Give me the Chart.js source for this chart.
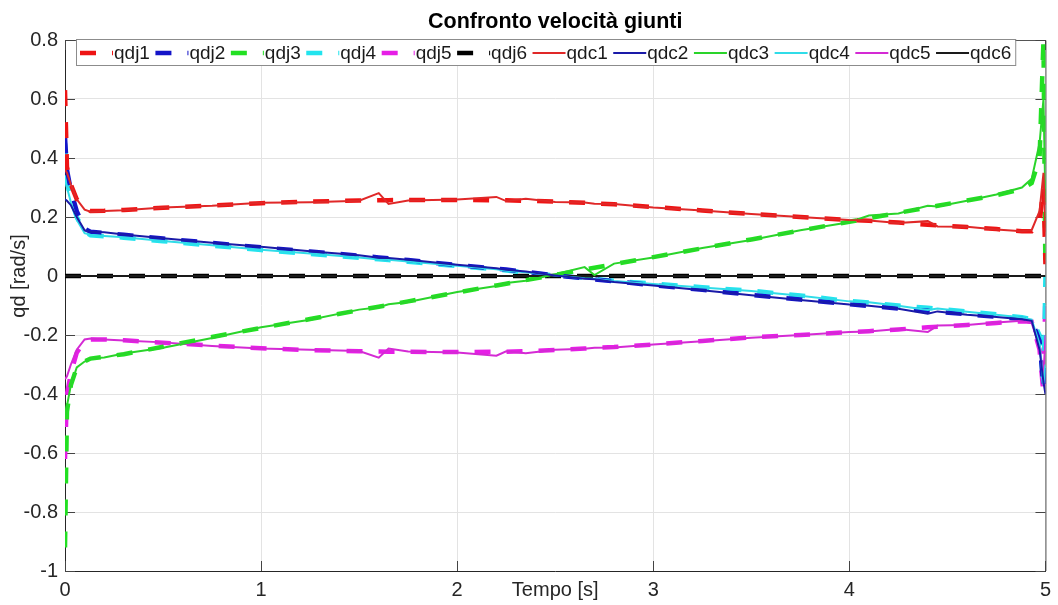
<!DOCTYPE html>
<html>
<head>
<meta charset="utf-8">
<script src="https://cdn.jsdelivr.net/npm/chart.js@4.4.0/dist/chart.umd.min.js"></script>
<style>
  html, body { margin: 0; padding: 0; background: #fff; }
  #wrap { width: 1058px; height: 605px; }
</style>
</head>
<body>
<div id="wrap"><canvas id="chart" width="1058" height="605"></canvas></div>
<script>
// time samples [s]
var time = [0, 0.01, 0.03, 0.06, 0.1, 0.13, 0.2, 0.3, 0.5, 0.75, 1.0, 1.25, 1.5, 1.6, 1.65, 1.75, 2.0, 2.2, 2.25, 2.35,
            2.5, 2.65, 2.7, 2.8, 3.0, 3.25, 3.5, 3.75, 4.0, 4.1, 4.25, 4.4, 4.45, 4.6, 4.75, 4.88, 4.93, 4.97, 4.99, 5.0];

// desired joint velocities (dashed)
var qdj1 = [0.63, 0.37, 0.31, 0.26, 0.23, 0.22, 0.221, 0.224, 0.231, 0.239, 0.247, 0.252, 0.256, 0.257, 0.257, 0.258, 0.258, 0.257, 0.257, 0.255,
            0.252, 0.248, 0.246, 0.243, 0.234, 0.222, 0.21, 0.2, 0.19, 0.187, 0.181, 0.174, 0.172, 0.166, 0.159, 0.152, 0.152, 0.18, 0.3, 0.04];
var qdj2 = [0.47, 0.36, 0.29, 0.22, 0.16, 0.15, 0.146, 0.14, 0.127, 0.112, 0.097, 0.083, 0.069, 0.063, 0.06, 0.054, 0.037, 0.025, 0.022, 0.014,
            0.002, -0.008, -0.012, -0.018, -0.031, -0.047, -0.064, -0.08, -0.096, -0.102, -0.11, -0.118, -0.121, -0.13, -0.138, -0.146, -0.15, -0.22, -0.38, -0.3];
var qdj3 = [-0.92, -0.46, -0.37, -0.31, -0.29, -0.28, -0.274, -0.265, -0.24, -0.207, -0.176, -0.146, -0.116, -0.104, -0.098, -0.086, -0.056, -0.032, -0.026, -0.014,
            0.004, 0.022, 0.028, 0.04, 0.064, 0.094, 0.124, 0.154, 0.184, 0.196, 0.214, 0.232, 0.238, 0.256, 0.274, 0.295, 0.315, 0.4, 0.8, 0.0];
var qdj4 = [0.45, 0.32, 0.26, 0.2, 0.15, 0.138, 0.135, 0.13, 0.118, 0.103, 0.088, 0.075, 0.062, 0.057, 0.054, 0.048, 0.034, 0.022, 0.019, 0.012,
            0.002, -0.007, -0.01, -0.016, -0.026, -0.038, -0.05, -0.066, -0.085, -0.09, -0.1, -0.108, -0.111, -0.12, -0.13, -0.14, -0.146, -0.2, -0.38, 0.0];
var qdj5 = [-0.62, -0.4, -0.33, -0.26, -0.22, -0.215, -0.215, -0.218, -0.226, -0.236, -0.245, -0.251, -0.255, -0.256, -0.257, -0.257, -0.258, -0.257, -0.257, -0.255,
            -0.251, -0.246, -0.244, -0.241, -0.232, -0.22, -0.208, -0.2, -0.19, -0.187, -0.181, -0.174, -0.172, -0.166, -0.159, -0.153, -0.155, -0.25, -0.4, -0.05];
var qdj6 = [0, 0, 0, 0, 0, 0, 0, 0, 0, 0, 0, 0, 0, 0, 0, 0, 0, 0, 0, 0,
            0, 0, 0, 0, 0, 0, 0, 0, 0, 0, 0, 0, 0, 0, 0, 0, 0, 0, 0, 0];

// computed joint velocities (solid)
var qdc1 = [0.36, 0.35, 0.31, 0.26, 0.225, 0.218, 0.22, 0.223, 0.232, 0.238, 0.248, 0.25, 0.255, 0.281, 0.244, 0.256, 0.259, 0.268, 0.254, 0.262,
            0.251, 0.249, 0.245, 0.244, 0.232, 0.222, 0.21, 0.2, 0.19, 0.188, 0.18, 0.186, 0.168, 0.167, 0.158, 0.152, 0.156, 0.22, 0.35, 0.15];
var qdc2 = [0.26, 0.255, 0.24, 0.2, 0.155, 0.15, 0.148, 0.141, 0.128, 0.113, 0.099, 0.084, 0.07, 0.062, 0.061, 0.055, 0.038, 0.026, 0.021, 0.015,
            0.002, -0.009, -0.011, -0.02, -0.032, -0.048, -0.065, -0.081, -0.097, -0.101, -0.111, -0.128, -0.12, -0.131, -0.139, -0.147, -0.152, -0.25, -0.36, -0.4];
var qdc3 = [-0.48, -0.44, -0.37, -0.31, -0.29, -0.28, -0.276, -0.263, -0.243, -0.21, -0.174, -0.148, -0.114, -0.106, -0.096, -0.088, -0.054, -0.034, -0.024, -0.016,
            0.006, 0.03, 0.003, 0.042, 0.063, 0.095, 0.122, 0.155, 0.182, 0.205, 0.212, 0.238, 0.236, 0.255, 0.276, 0.3, 0.33, 0.45, 0.6, 0.25];
var qdc4 = [0.33, 0.3, 0.25, 0.19, 0.145, 0.14, 0.136, 0.131, 0.119, 0.104, 0.089, 0.076, 0.063, 0.056, 0.055, 0.049, 0.035, 0.023, 0.018, 0.013,
            0.002, -0.008, -0.009, -0.017, -0.027, -0.039, -0.051, -0.067, -0.086, -0.089, -0.101, -0.115, -0.11, -0.121, -0.131, -0.141, -0.148, -0.23, -0.37, -0.3];
var qdc5 = [-0.35, -0.34, -0.3, -0.25, -0.215, -0.212, -0.215, -0.219, -0.225, -0.237, -0.246, -0.25, -0.254, -0.277, -0.246, -0.256, -0.259, -0.27, -0.255, -0.262,
            -0.25, -0.247, -0.243, -0.242, -0.232, -0.221, -0.209, -0.2, -0.19, -0.188, -0.18, -0.19, -0.168, -0.166, -0.158, -0.152, -0.16, -0.24, -0.34, -0.2];
var qdc6 = [0, 0, 0, 0, 0, 0, 0, 0, 0, 0, 0, 0, 0, 0, 0, 0, 0, 0, 0, 0,
            0, 0, 0, 0, 0, 0, 0, 0, 0, 0, 0, 0, 0, 0, 0, 0, 0, 0, 0, 0];

var xTickValues = [0, 1, 2, 3, 4, 5];
var xTickLabels = ['0', '1', '2', '3', '4', '5'];
var yTickValues = [-1, -0.8, -0.6, -0.4, -0.2, 0, 0.2, 0.4, 0.6, 0.8];
var yTickLabels = ['-1', '-0.8', '-0.6', '-0.4', '-0.2', '0', '0.2', '0.4', '0.6', '0.8'];

var FONT = '"Liberation Sans", Arial, sans-serif';

function pts(arr) {
    return time.map(function (t, i) { return { x: t, y: arr[i] }; });
}

function dashed(label, data, color) {
    return { label: label, data: pts(data), borderColor: color, borderWidth: 4.5, borderDash: [16, 16], order: 1 };
}
function solid(label, data, color) {
    return { label: label, data: pts(data), borderColor: color, borderWidth: 2, order: 0 };
}

var datasets = [
    dashed('qdj1', qdj1, '#ee1414'),
    dashed('qdj2', qdj2, '#1414c8'),
    dashed('qdj3', qdj3, '#22e022'),
    dashed('qdj4', qdj4, '#22e4ee'),
    dashed('qdj5', qdj5, '#e61ee6'),
    dashed('qdj6', qdj6, '#000000'),
    solid('qdc1', qdc1, '#e02828'),
    solid('qdc2', qdc2, '#1a1aa8'),
    solid('qdc3', qdc3, '#2ad42a'),
    solid('qdc4', qdc4, '#30dce8'),
    solid('qdc5', qdc5, '#d42ad4'),
    solid('qdc6', qdc6, '#1a1a1a')
];

// legend box drawn inside the axes, MATLAB style
var legendBox = {
    id: 'legendBox',
    afterDraw: function (chart) {
        var ctx = chart.ctx;
        ctx.save();
        ctx.font = '19px ' + FONT;
        var x0 = 80, y = 53, x = x0;
        var items = [];
        chart.data.datasets.forEach(function (ds) {
            var w = ctx.measureText(ds.label).width;
            items.push({ ds: ds, x: x });
            x += 34 + w + 5.5;
        });
        var right = x - 5.5 + 4;
        ctx.fillStyle = '#fff';
        ctx.fillRect(76, 39.5, right - 76, 26);
        ctx.strokeStyle = '#8c8c8c';
        ctx.lineWidth = 1;
        ctx.strokeRect(76.5, 39.5, right - 76, 26);
        ctx.textBaseline = 'middle';
        items.forEach(function (it) {
            var ds = it.ds;
            ctx.strokeStyle = ds.borderColor;
            ctx.lineWidth = ds.borderWidth;
            ctx.setLineDash(ds.borderDash || []);
            ctx.beginPath();
            ctx.moveTo(it.x, y);
            ctx.lineTo(it.x + 33, y);
            ctx.stroke();
            ctx.setLineDash([]);
            ctx.fillStyle = '#1a1a1a';
            ctx.fillText(ds.label, it.x + 34, y + 1);
        });
        ctx.restore();
    }
};

// box, inward ticks, title and axis titles
var axesDecor = {
    id: 'axesDecor',
    beforeDatasetsDraw: function (chart) {
        var ctx = chart.ctx, a = chart.chartArea;
        var xs = chart.scales.x, ys = chart.scales.y;
        ctx.save();
        ctx.strokeStyle = '#555';
        ctx.lineWidth = 1;
        ctx.beginPath();
        ctx.moveTo(a.left, a.top + 0.5); ctx.lineTo(a.right + 0.5, a.top + 0.5);
        ctx.lineTo(a.right + 0.5, a.bottom);
        ctx.stroke();
        ctx.strokeStyle = '#444';
        ctx.beginPath();
        xTickValues.forEach(function (v) {
            var px = Math.round(xs.getPixelForValue(v)) + 0.5;
            ctx.moveTo(px, a.bottom); ctx.lineTo(px, a.bottom - 10);
            ctx.moveTo(px, a.top); ctx.lineTo(px, a.top + 10);
        });
        yTickValues.forEach(function (v) {
            var py = Math.round(ys.getPixelForValue(v)) + 0.5;
            ctx.moveTo(a.left, py); ctx.lineTo(a.left + 10, py);
            ctx.moveTo(a.right, py); ctx.lineTo(a.right - 10, py);
        });
        ctx.stroke();
        ctx.restore();
    },
    afterDraw: function (chart) {
        var ctx = chart.ctx, a = chart.chartArea;
        ctx.save();
        ctx.fillStyle = '#000';
        ctx.font = 'bold 21.5px ' + FONT;
        ctx.textAlign = 'center';
        ctx.textBaseline = 'middle';
        ctx.fillText('Confronto velocità giunti', (a.left + a.right) / 2, 22);
        ctx.fillStyle = '#262626';
        ctx.font = '20px ' + FONT;
        ctx.fillText('Tempo [s]', (a.left + a.right) / 2, 590);
        ctx.translate(19, chart.scales.y.getPixelForValue(0));
        ctx.rotate(-Math.PI / 2);
        ctx.fillText('qd [rad/s]', 0, 0);
        ctx.restore();
    }
};

new Chart(document.getElementById('chart'), {
    type: 'line',
    data: { datasets: datasets },
    plugins: [axesDecor, legendBox],
    options: {
        responsive: false,
        animation: false,
        events: [],
        layout: { padding: { left: 0, right: 12, top: 40, bottom: 0 } },
        elements: {
            point: { radius: 0 },
            line: { tension: 0, fill: false }
        },
        plugins: {
            legend: { display: false },
            tooltip: { enabled: false },
            title: { display: false }
        },
        scales: {
            x: {
                type: 'linear',
                min: 0,
                max: 5,
                afterBuildTicks: function (s) { s.ticks = xTickValues.map(function (v) { return { value: v }; }); },
                afterFit: function (s) { s.height = 34; },
                ticks: {
                    color: '#262626',
                    font: { family: FONT, size: 20 },
                    padding: 7,
                    maxRotation: 0,
                    callback: function (v, i) { return xTickLabels[i]; }
                },
                grid: { color: '#e3e3e3', drawTicks: false },
                border: { color: '#262626', width: 1 }
            },
            y: {
                type: 'linear',
                min: -1,
                max: 0.8,
                afterBuildTicks: function (s) { s.ticks = yTickValues.map(function (v) { return { value: v }; }); },
                afterFit: function (s) { s.width = 65; },
                ticks: {
                    color: '#262626',
                    font: { family: FONT, size: 20 },
                    padding: 7,
                    callback: function (v, i) { return yTickLabels[i]; }
                },
                grid: { color: '#e3e3e3', drawTicks: false },
                border: { color: '#262626', width: 1 }
            }
        }
    }
});
</script>
</body>
</html>
